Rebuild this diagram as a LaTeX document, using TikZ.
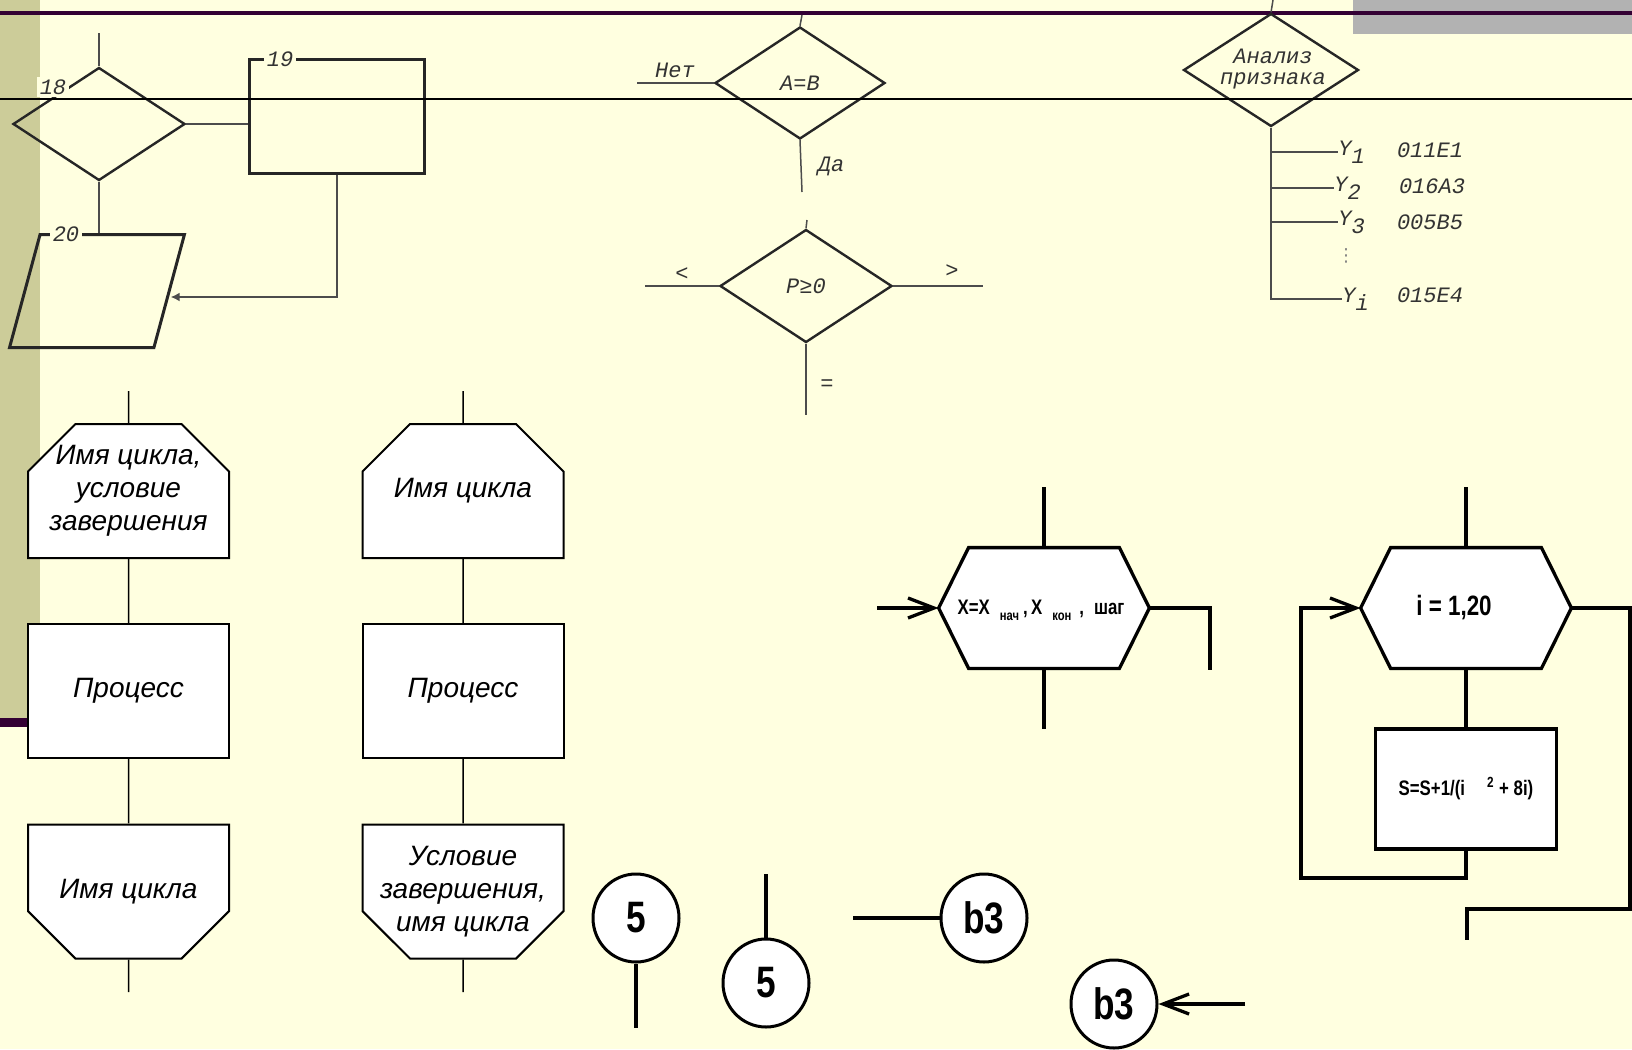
\documentclass[tikz,border=0pt]{standalone}
\usepackage{fontspec}
\setmainfont{Liberation Sans}
\newfontfamily\kurs{Liberation Mono}
\newfontfamily\dejavu{DejaVu Sans}
\newfontfamily\uzkij[FakeStretch=0.8]{Liberation Sans}
\usetikzlibrary{positioning,arrows.meta,calc,shapes.geometric,shapes.misc}

\definecolor{fon}{RGB}{255,255,224}
\definecolor{polosa}{RGB}{204,204,153}
\definecolor{lilovyj}{RGB}{51,0,51}
\definecolor{seryj}{RGB}{178,178,178}

% nizhnij indeks v shestiugolnike
\newcommand{\nizh}[1]{\raisebox{-3pt}{\fontsize{7}{7}\selectfont #1}}
\newcommand{\yind}[1]{Y\raisebox{-4pt}{#1}}

\begin{document}
\begin{tikzpicture}[
  x=0.5pt, y=-0.5pt,
  staryj/.style={font=\kurs\itshape\fontsize{11}{10.5}\selectfont, inner sep=0pt, text=black!80},
  romb/.style={diamond, draw=black!85, line width=1.2pt, minimum width=86pt, minimum height=56.5pt, inner sep=0pt, align=center, staryj},
  tonk/.style={black!70, line width=0.75pt},
  nomer/.style={staryj, fill=fon, inner sep=1.5pt},
  tekst/.style={align=center, inner sep=0pt, font=\itshape\fontsize{14}{16.5}\selectfont},
  blok/.style={rectangle, draw, fill=white, line width=1pt, minimum width=100.5pt, minimum height=67pt, tekst},
  ciklnach/.style={blok, chamfered rectangle, chamfered rectangle xsep=17.5pt, chamfered rectangle ysep=17.5pt, chamfered rectangle corners={north west,north east}},
  ciklkon/.style={blok, chamfered rectangle, chamfered rectangle xsep=17.5pt, chamfered rectangle ysep=17.5pt, chamfered rectangle corners={south west,south east}},
  liniya/.style={line width=0.75pt},
  zhir/.style={line width=1.65pt},
  uzk/.style={inner sep=0pt, font=\uzkij\bfseries\fontsize{10.5}{12}\selectfont},
  shest/.style={rectangle, minimum width=105pt, minimum height=60pt, inner sep=0pt},
  kontur/.style={draw, fill=white, zhir, line join=miter},
  krug/.style={ellipse, draw, fill=white, line width=1.5pt, minimum width=43pt, minimum height=44pt, inner sep=0pt, font=\uzkij\bfseries\fontsize{22}{22}\selectfont},
  strelka/.style={-{Straight Barb[length=13pt, width=10pt]}}
]
\useasboundingbox (0,0) rectangle (1632,1049);

%% fon slajda
\fill[fon] (0,0) rectangle (1632,1049);
\fill[polosa] (0,0) rectangle (40,718);
\fill[lilovyj] (0,718) rectangle (60,727);
\fill[seryj] (1353,0) rectangle (1632,34);
\fill[lilovyj] (0,11) rectangle (1632,15);

%% ===== blok 18-19-20 =====
\node[romb] (r18) at (99,124) {};
\node[draw=black!85, line width=1.5pt, minimum width=87.5pt, minimum height=57pt] (b19) at (337,116) {};
\node[trapezium, trapezium left angle=75, trapezium right angle=105, trapezium stretches,
  draw=black!85, line width=1.5pt, minimum width=87.5pt, minimum height=56.5pt] (p20) at (97,291) {};
\node[nomer] (n18) at (53,87) {18};
\node[nomer] (n19) at (280,59) {19};
\node[nomer] (n20) at (66,234) {20};

\coordinate (v18) at (99,33);
\draw[tonk] (v18) -- (r18.north);
\draw[tonk] (r18.east) -- (r18.east -| b19.west);
\draw[tonk] (r18.south) -- (r18.south |- p20.north);
\draw[tonk, -{Latex[length=4.5pt, width=4.5pt]}] (b19.south) |- ([yshift=-3pt]p20.east);

%% ===== A=B =====
\node[romb, minimum width=85pt, minimum height=56pt] (rab) at (800,83) {A=B};
\coordinate (rabv) at (802,15);
\coordinate (rabl) at (637,83);
\coordinate (rabn) at (802,192);
\draw[tonk] (rabv) -- (rab.north);
\draw[tonk] (rabl) -- (rab.west);
\draw[tonk] (rab.south) -- (rabn);
\node[staryj] (net) at (675,70) {Нет};
\node[staryj] (da) at (831,166) {Да};

%% ===== P>=0 =====
\node[romb] (rp) at (806,286) {P≥0};
\coordinate (rpv) at (807,220);
\coordinate (rpl) at (645,286);
\coordinate (rpp) at (983,286);
\coordinate (rpn) at (806,415);
\draw[tonk] (rpv) -- (rp.north);
\draw[tonk] (rpl) -- (rp.west);
\draw[tonk] (rp.east) -- (rpp);
\draw[tonk] (rp.south) -- (rpn);
\node[staryj] (men) at (682,274) {<};
\node[staryj] (bol) at (952,271) {>};
\node[staryj] (rav) at (827,385) {=};

%% ===== Analiz priznaka =====
\node[romb, minimum width=87.5pt] (ran) at (1271,70) {};
\node[staryj, align=center] (rant) at (1273,69) {Анализ\\признака};
\coordinate (ranv) at (1273,0);
\draw[tonk] (ranv) -- (ran.north);
\node[staryj, anchor=west] (y1) at (1338,152) {\yind{1}};
\node[staryj, anchor=west] (y2) at (1334,188) {\yind{2}};
\node[staryj, anchor=west] (y3) at (1338,222) {\yind{3}};
\node[staryj, anchor=west] (yi) at (1342,299) {\yind{i}};
\draw[tonk] (ran.south) |- (yi.west);
\foreach \v in {y1,y2,y3}
  \draw[tonk] (ran.south |- \v.west) -- (\v.west);
\node[staryj] (k1) at (1430,150) {011E1};
\node[staryj] (k2) at (1432,186) {016A3};
\node[staryj] (k3) at (1430,222) {005B5};
\node[staryj] (ki) at (1430,295) {015E4};
\node[inner sep=0pt, text=black!50, font=\dejavu\fontsize{9}{9}\selectfont] (tchk) at (1346,256) {⋮};

%% ===== cikly: stolbec 1 =====
\node[ciklnach] (a1) at (128.5,491) {\phantom{Имя цикла}};
\node[blok] (a2) at (128.5,691) {Процесс};
\node[ciklkon] (a3) at (128.5,891.5) {\phantom{Имя цикла}};
\node[tekst] (a1t) at (a1) {Имя цикла,\\условие\\завершения};
\node[tekst] (a3t) at (a3) {Имя цикла};
\coordinate (a0) at (128.5,391);
\coordinate (a4) at (128.5,992);
\draw[liniya] (a0) -- (a1) -- (a2) -- (a3) -- (a4);

%% ===== cikly: stolbec 2 =====
\node[ciklnach] (c1) at (463,491) {\phantom{Имя цикла}};
\node[blok] (c2) at (463,691) {Процесс};
\node[ciklkon] (c3) at (463,891.5) {\phantom{Имя цикла}};
\node[tekst] (c1t) at (c1) {Имя цикла};
\node[tekst] (c3t) at (c3) {Условие\\завершения,\\имя цикла};
\coordinate (c0) at (463,391);
\coordinate (c4) at (463,992);
\draw[liniya] (c0) -- (c1) -- (c2) -- (c3) -- (c4);

%% ===== shestiugolniki =====
\node[shest] (h1) at (1044,608) {};
\node[shest] (h2) at (1466,608) {};
\foreach \h in {h1,h2}
  \draw[kontur] (\h.west) -- ([xshift=15pt]\h.north west) -- ([xshift=-15pt]\h.north east)
    -- (\h.east) -- ([xshift=-15pt]\h.south east) -- ([xshift=15pt]\h.south west) -- cycle;

%% ===== modifikaciya X =====
\node[uzk] (h1t) at (1041,610) {X=X\hspace{5pt}\nizh{нач}\hspace{2pt},\,X\hspace{5pt}\nizh{кон}\hspace{4pt},\hspace{5pt}шаг};
\coordinate (h1v) at (1044,487);
\coordinate (h1n) at (1044,729);
\coordinate (h1l) at (877,608);
\coordinate (h1p) at (1210,670);
\draw[zhir] (h1v) -- (h1.north);
\draw[zhir] (h1.south) -- (h1n);
\draw[zhir, strelka] (h1l) -- (h1.west);
\draw[zhir] (h1.east) -| (h1p);

%% ===== cikl i = 1,20 =====
\node[uzk, font=\uzkij\bfseries\fontsize{14}{16}\selectfont] (h2t) at (1454,608) {i = 1,20};
\node[draw, fill=white, zhir, minimum width=90.5pt, minimum height=60pt, uzk] (sum) at (1466,789) {S=S+1/(i\hspace{11pt}\textsuperscript{2} + 8i)};
\coordinate (h2v) at (1466,487);
\coordinate (h2l) at (1301,878);
\coordinate (h2p) at (1630,909);
\coordinate (h2n) at (1467,940);
\draw[zhir] (h2v) -- (h2.north);
\draw[zhir] (h2.south) -- (sum.north);
\draw[zhir, strelka] (sum.south) |- (h2l) |- (h2.west);
\draw[zhir] (h2.east) -| (h2p) -| (h2n);

%% ===== soediniteli =====
\node[krug] (s1) at (636,918) {5};
\node[krug] (s2) at (766,983) {5};
\node[krug] (s3) at (984,918) {b3};
\node[krug] (s4) at (1114,1004) {b3};
\coordinate (s1n) at (636,1028);
\coordinate (s2v) at (766,874);
\coordinate (s3l) at (853,918);
\coordinate (s4p) at (1245,1004);
\draw[zhir] (s1) -- (s1n);
\draw[zhir] (s2v) -- (s2);
\draw[zhir] (s3l) -- (s3);
\draw[zhir, strelka] (s4p) -- (s4);

%% tonkaya liniya poverh
\draw[line width=0.6pt] (0,99) -- (1632,99);
\end{tikzpicture}
\end{document}
